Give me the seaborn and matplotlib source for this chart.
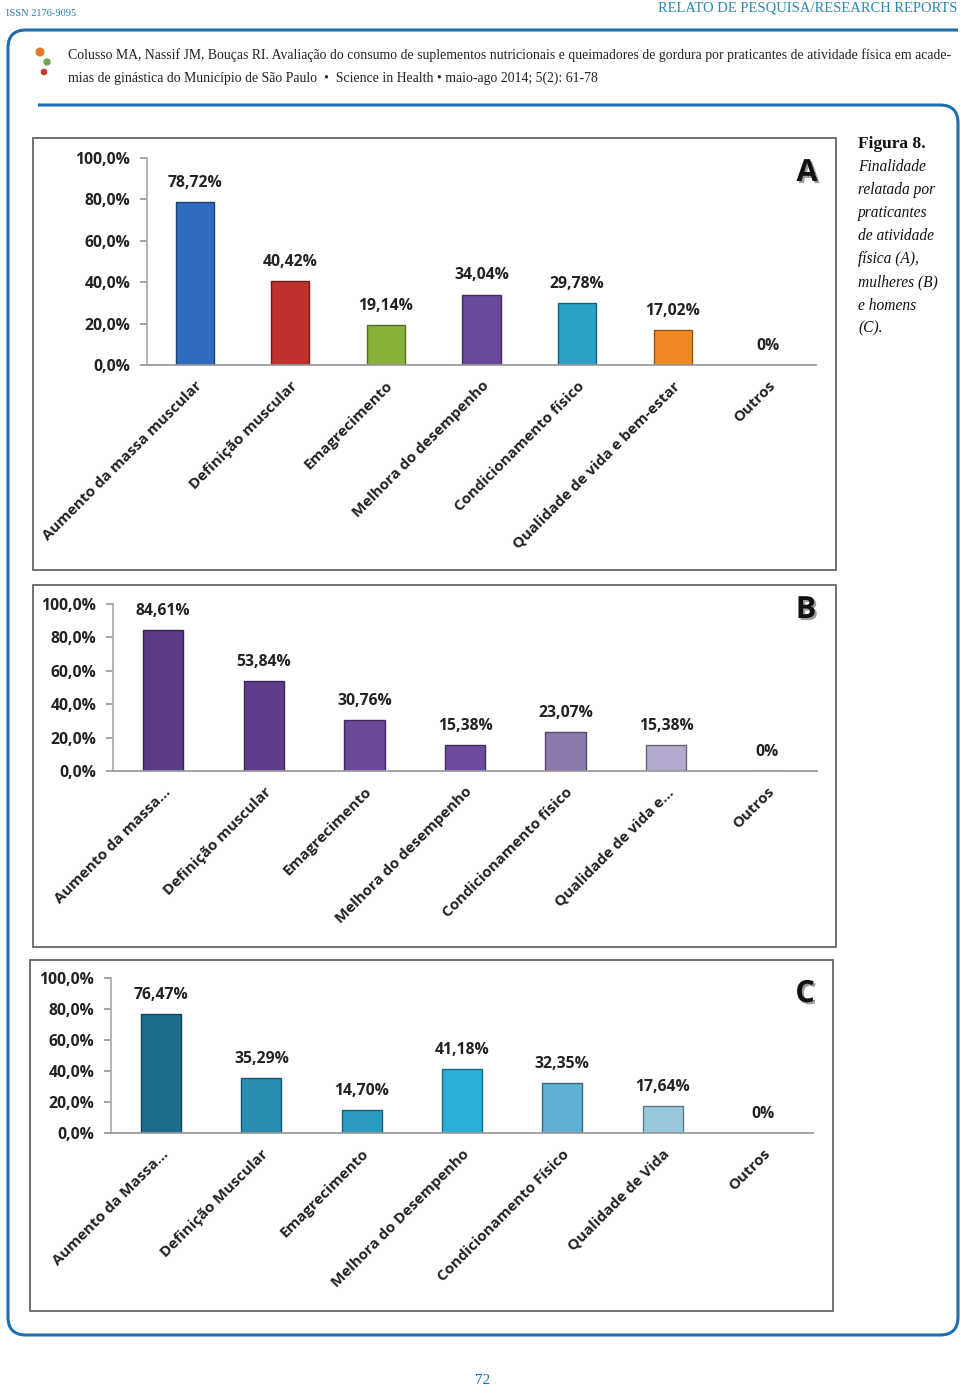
import numpy as np
import pandas as pd
import matplotlib
matplotlib.use("Agg")
import matplotlib.pyplot as plt
import seaborn as sns
from matplotlib import patheffects as pe
from matplotlib.patches import Rectangle, PathPatch
from matplotlib.path import Path
import matplotlib.colors as mcolors

# ---------------- data ----------------
cats_a = ["Aumento da massa muscular", "Definição muscular", "Emagrecimento",
          "Melhora do desempenho", "Condicionamento físico",
          "Qualidade de vida e bem-estar", "Outros"]
vals_a = [78.72, 40.42, 19.14, 34.04, 29.78, 17.02, 0.0]
labels_a = ["78,72%", "40,42%", "19,14%", "34,04%", "29,78%", "17,02%", "0%"]

cats_b = ["Aumento da massa...", "Definição muscular", "Emagrecimento",
          "Melhora do desempenho", "Condicionamento físico",
          "Qualidade de vida e...", "Outros"]
vals_b = [84.61, 53.84, 30.76, 15.38, 23.07, 15.38, 0.0]
labels_b = ["84,61%", "53,84%", "30,76%", "15,38%", "23,07%", "15,38%", "0%"]

cats_c = ["Aumento da Massa...", "Definição Muscular", "Emagrecimento",
          "Melhora do Desempenho", "Condicionamento Físico",
          "Qualidade de Vida", "Outros"]
vals_c = [76.47, 35.29, 14.70, 41.18, 32.35, 17.64, 0.0]
labels_c = ["76,47%", "35,29%", "14,70%", "41,18%", "32,35%", "17,64%", "0%"]

yticks = [0, 20, 40, 60, 80, 100]
ytick_labels = ["0,0%", "20,0%", "40,0%", "60,0%", "80,0%", "100,0%"]

colors_a = ["#2f6cbf", "#c0302c", "#8ab23a", "#6a4a9c", "#2aa0c6", "#ef8a23", "#999999"]
colors_b = ["#5b3a86", "#5f3d8a", "#6b4898", "#6d4aa0", "#8b78ad", "#b4a8cc", "#999999"]
colors_c = ["#1e6d8c", "#2a8db2", "#2d9cc2", "#2ab0d8", "#5fb0d2", "#98c8dc", "#999999"]

# ---------------- figure ----------------
W, H = 960, 1395
sns.set_theme(style="white")
plt.rcParams['font.family'] = ['Open Sans', 'DejaVu Sans']
fig = plt.figure(figsize=(W / 100, H / 100), dpi=100)
fig.patch.set_facecolor("white")

bg = fig.add_axes([0, 0, 1, 1], zorder=-1)
bg.set_xlim(0, W)
bg.set_ylim(H, 0)
bg.axis("off")

blue = "#1f6fb0"
serif = ["Liberation Serif", "DejaVu Serif"]

# header
bg.text(6, 13, "ISSN 2176-9095", fontsize=7.5, color="#2a7ab0", family=serif,
        va="center", ha="left")
bg.text(958, 8, "RELATO DE PESQUISA/RESEARCH REPORTS", fontsize=10.5, color="#2a8ab0",
        family=serif, va="center", ha="right")

# frame path
r = 18
verts = [(958, 30), (8 + r, 30), (8, 30), (8, 30 + r), (8, 1335 - r), (8, 1335), (8 + r, 1335),
         (958 - r, 1335), (958, 1335), (958, 1335 - r), (958, 105 + r), (958, 105), (958 - r, 105),
         (38, 105)]
codes = [Path.MOVETO, Path.LINETO, Path.CURVE3, Path.CURVE3, Path.LINETO, Path.CURVE3, Path.CURVE3,
         Path.LINETO, Path.CURVE3, Path.CURVE3, Path.LINETO, Path.CURVE3, Path.CURVE3, Path.LINETO]
bg.add_patch(PathPatch(Path(verts, codes), fill=False, ec=blue, lw=2.2))

# citation
cit1 = ("Colusso MA, Nassif JM, Bouças RI. Avaliação do consumo de suplementos nutricionais e "
        "queimadores de gordura por praticantes de atividade física em acade-")
cit2 = "mias de ginástica do Município de São Paulo  •  Science in Health • maio-ago 2014; 5(2): 61-78"
bg.text(68, 55, cit1, fontsize=9.9, color="#222", family=serif, va="center", ha="left")
bg.text(68, 78, cit2, fontsize=9.9, color="#222", family=serif, va="center", ha="left")

# small logo
bg.scatter([40, 47, 44], [52, 62, 72], s=[30, 18, 14], c=["#e07a2a", "#6aa84f", "#c0392b"], zorder=3)

# caption
bg.text(858, 144, "Figura 8.", fontsize=12.5, fontweight="bold", family=serif, color="#111",
        va="center", ha="left")
cap_lines = ["Finalidade", "relatada por", "praticantes", "de atividade", "física (A),",
             "mulheres (B)", "e homens", "(C)."]
for i, t in enumerate(cap_lines):
    bg.text(858, 167 + i * 23.1, t, fontsize=11.2, style="italic", family=serif, color="#111",
            va="center", ha="left")

# page number
bg.text(483, 1380, "72", fontsize=11, color=blue, family=serif, va="center", ha="center")


def rect(x0, ytop, x1, ybot):
    return [x0 / W, 1 - ybot / H, (x1 - x0) / W, (ybot - ytop) / H]


def panel(box, axbox, cats, vals, labels, colors, letter, letter_xy):
    bx0, by0, bx1, by1 = box
    bg.add_patch(Rectangle((bx0, by0), bx1 - bx0, by1 - by0, fill=False, ec="#666666", lw=1.3))
    ax = fig.add_axes(rect(*axbox))
    ax.patch.set_alpha(0)
    df = pd.DataFrame({"cat": cats, "val": vals})
    sns.barplot(data=df, x="cat", y="val", hue="cat", palette=colors, legend=False,
                width=0.4, ax=ax, saturation=1)
    for p, c in zip(ax.patches, colors):
        p.set_edgecolor(np.array(mcolors.to_rgb(c)) * 0.6)
        p.set_linewidth(1.0)
    ax.set_ylim(0, 100)
    ax.set_xlim(-0.5, len(cats) - 0.5)
    ax.set_yticks(yticks)
    ax.set_yticklabels(ytick_labels, fontsize=11.3, fontweight="bold", color="#222")
    ax.set_xticks(range(len(cats)))
    ax.set_xticklabels(cats, rotation=45, ha="right", rotation_mode="anchor",
                       fontsize=10.9, fontweight="bold", color="#222")
    ax.set_xticks(np.arange(-0.5, len(cats), 1), minor=True)
    ax.tick_params(axis="x", which="major", length=0, pad=10)
    ax.tick_params(axis="x", which="minor", length=5, color="#999", direction="out", width=1)
    ax.tick_params(axis="y", length=5, color="#999", direction="out", pad=7, left=True)
    ax.set_xlabel("")
    ax.set_ylabel("")
    for s in ["top", "right"]:
        ax.spines[s].set_visible(False)
    ax.spines["left"].set_color("#aaa")
    ax.spines["bottom"].set_color("#999")
    for i, (v, t) in enumerate(zip(vals, labels)):
        ax.annotate(t, (i, v), xytext=(0, 8), textcoords="offset points", ha="center",
                    va="bottom", fontsize=11.3, fontweight="bold", color="#222")
    bg.text(letter_xy[0], letter_xy[1], letter, fontsize=22, fontweight="bold", color="#111",
            ha="center", va="center",
            path_effects=[pe.SimplePatchShadow(offset=(1.5, -1.5), alpha=0.4), pe.Normal()])
    return ax


panel((33, 138, 836, 570), (147, 158, 816, 365), cats_a, vals_a, labels_a, colors_a, "A", (807, 173))
panel((33, 585, 836, 947), (113, 604, 817, 771), cats_b, vals_b, labels_b, colors_b, "B", (806, 610))
panel((30, 960, 833, 1311), (111, 978, 813, 1133), cats_c, vals_c, labels_c, colors_c, "C", (805, 994))

fig.savefig("out.png", dpi=100, facecolor="white")
